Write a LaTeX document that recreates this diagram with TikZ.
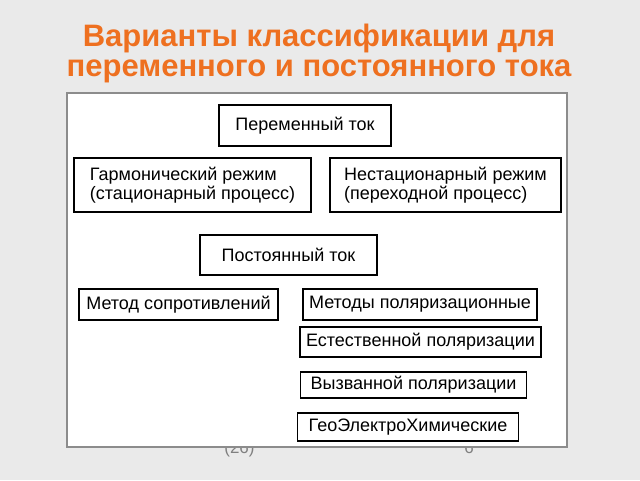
\documentclass[tikz,border=0pt]{standalone}
\usepackage{fontspec}
\setmainfont{Liberation Sans}
\definecolor{titleorange}{RGB}{238,112,32}
\definecolor{pagegray}{RGB}{234,234,234}
\tikzset{ bx/.style  = { draw
                       , line width   = 1.2pt
                       , inner sep    = 0pt
                       , align        = left
                       , font         = \fontsize{18}{19}\selectfont
                       },
          tbx/.style = { bx
                       , line width   = 2.6pt
                       },
          ttl/.style = { text      = titleorange
                       , anchor    = base
                       , inner sep = 0pt
                       , font      = \fontsize{31}{28}\bfseries
                       }
        }

\begin{document}
\begin{tikzpicture}[x=1pt, y=-1pt]
    \fill[pagegray] (0,0) rectangle (640,480);
    \useasboundingbox (0,0) rectangle (640,480);
    % title
    \node[ttl] (title1) at (319,46) {Варианты классификации для};
    \node[ttl] (title2) at (319,76) {переменного и постоянного тока};
    % footer, partly under the panel
    \node[text=gray, font=\fontsize{17}{18}\selectfont, anchor=base] (num)  at (239.5,453) {(26)};
    \node[text=gray, font=\fontsize{17}{18}\selectfont, anchor=base] (page) at (469,453) {6};
    \draw[draw=gray!90, line width=1.5pt, fill=white] (67,93) rectangle (567,447);
    % alternating current
    \node[tbx, minimum width=172, minimum height=41] (ac)    at (305,125.5) {Переменный ток};
    \node[bx,  minimum width=237, minimum height=54] (harm)  at (192.5,185)
      {Гармонический режим\\(стационарный процесс)};
    \node[bx,  minimum width=231, minimum height=54] (trans) at (445.5,185)
      {Нестационарный режим\\(переходной процесс)};
    % direct current
    \node[tbx, minimum width=177, minimum height=40] (dc)  at (288.5,255) {Постоянный ток};
    \node[bx,  minimum width=199, minimum height=31] (res) at (178.5,304.5) {Метод сопротивлений};
    \foreach \n/\x/\y/\w/\h/\t in {pol/420/304.5/234/31/Методы поляризационные,
                                   nat/420.5/342/241/30/Естественной поляризации,
                                   ind/413.5/385/226/26/Вызванной поляризации,
                                   geo/408/427/221/28/ГеоЭлектроХимические} {
      \node[bx, minimum width=\w, minimum height=\h] (\n) at (\x,\y) {\t};
    }
\end{tikzpicture}
\end{document}
